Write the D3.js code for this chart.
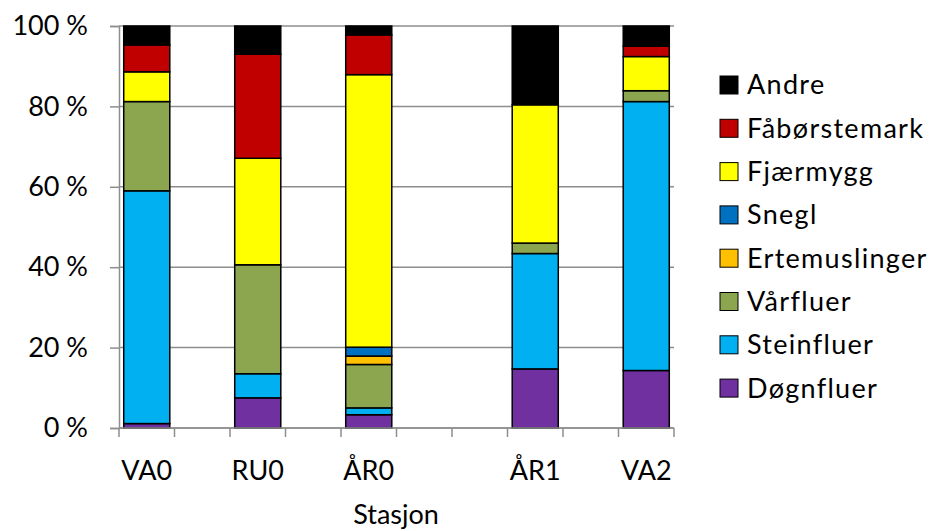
<!DOCTYPE html>
<html>
<head>
<meta charset="utf-8">
<script src="https://cdn.jsdelivr.net/npm/d3@7"></script>
<style>
  html, body { margin: 0; padding: 0; background: #fff; }
  svg { display: block; font-family: Lato, "Open Sans", sans-serif; }
</style>
</head>
<body>
<svg id="chart" width="930" height="531"></svg>
<script>
// Category slots along the x axis (empty strings are unused slots)
const categories = ["VA0", "", "RU0", "", "ÅR0", "", "", "ÅR1", "", "VA2"];

// Taxon groups, bottom of the stack first
const groups = ["Døgnfluer", "Steinfluer", "Vårfluer", "Ertemuslinger", "Snegl", "Fjærmygg", "Fåbørstemark", "Andre"];
const colors = ["#7030A0", "#00B0F0", "#8CA64F", "#FFC000", "#0070C0", "#FFFF00", "#C00000", "#000000"];

// Percent share per slot (null = empty slot)
const døgnfluer     = [1.1, null, 7.5, null, 3.3, null, null, 14.7, null, 14.3];
const steinfluer    = [57.9, null, 6.0, null, 1.7, null, null, 28.7, null, 66.9];
const vårfluer      = [22.2, null, 27.1, null, 10.8, null, null, 2.6, null, 2.7];
const ertemuslinger = [0, null, 0, null, 2.1, null, null, 0, null, 0];
const snegl         = [0, null, 0, null, 2.2, null, null, 0, null, 0];
const fjærmygg      = [7.4, null, 26.5, null, 67.8, null, null, 34.4, null, 8.5];
const fåbørstemark  = [6.7, null, 25.9, null, 9.9, null, null, 0, null, 2.6];
const andre         = [4.7, null, 7.0, null, 2.2, null, null, 19.6, null, 5.0];

const yTicks = [0, 20, 40, 60, 80, 100];
const yTickLabels = ["0 %", "20 %", "40 %", "60 %", "80 %", "100 %"];
const xTitle = "Stasjon";

const seriesValues = [døgnfluer, steinfluer, vårfluer, ertemuslinger, snegl, fjærmygg, fåbørstemark, andre];

const svg = d3.select("#chart");
const margin = { left: 119, right: 256, top: 26, bottom: 103 };
const W = 930, H = 531;

const x = d3.scaleBand()
  .domain(d3.range(categories.length))
  .range([margin.left, W - margin.right])
  .paddingInner(0.17)
  .paddingOuter(0.085);

const y = d3.scaleLinear().domain([0, 100]).range([H - margin.bottom, margin.top]);

// Table rows for the stack generator
const rows = categories.map((c, i) => {
  const r = { idx: i, name: c };
  groups.forEach((g, k) => { r[g] = seriesValues[k][i] == null ? 0 : seriesValues[k][i]; });
  return r;
}).filter(r => r.name !== "");

const stacked = d3.stack().keys(groups)(rows);

// Horizontal gridlines
svg.append("g")
  .selectAll("line")
  .data(yTicks)
  .join("line")
  .attr("x1", margin.left)
  .attr("x2", W - margin.right)
  .attr("y1", d => y(d))
  .attr("y2", d => y(d))
  .attr("stroke", "#8e8e8e")
  .attr("stroke-width", 1.5);

// Stacked bars
const layers = svg.append("g")
  .selectAll("g")
  .data(stacked)
  .join("g")
  .attr("fill", (d, i) => colors[i]);

layers.selectAll("rect")
  .data(d => d.filter(s => s[1] - s[0] > 0))
  .join("rect")
  .attr("x", d => x(d.data.idx))
  .attr("width", x.bandwidth())
  .attr("y", d => y(d[1]))
  .attr("height", d => y(d[0]) - y(d[1]))
  .attr("stroke", "#000")
  .attr("stroke-width", 1.5);

// Y axis
const yAxis = d3.axisLeft(y)
  .tickValues(yTicks)
  .tickFormat((d, i) => yTickLabels[i])
  .tickSize(9)
  .tickPadding(22);

const gy = svg.append("g")
  .attr("transform", `translate(${margin.left},0)`)
  .call(yAxis);
gy.select(".domain").attr("stroke", "#8e8e8e").attr("stroke-width", 1.5);
gy.selectAll(".tick line").attr("stroke", "#8e8e8e").attr("stroke-width", 1.5);
gy.selectAll(".tick text")
  .attr("font-size", 27)
  .attr("fill", "#000")
  .attr("font-family", "Lato, 'Open Sans', sans-serif");

// X axis: ticks on slot boundaries, labels centred under each bar
const boundaries = d3.range(categories.length + 1).map(i => margin.left + i * x.step());
const xg = svg.append("g");
xg.append("line")
  .attr("x1", margin.left).attr("x2", W - margin.right)
  .attr("y1", y(0)).attr("y2", y(0))
  .attr("stroke", "#8e8e8e").attr("stroke-width", 1.5);
xg.selectAll("line.tick")
  .data(boundaries)
  .join("line")
  .attr("class", "tick")
  .attr("x1", d => d).attr("x2", d => d)
  .attr("y1", y(0)).attr("y2", y(0) + 9)
  .attr("stroke", "#8e8e8e").attr("stroke-width", 1.5);
xg.selectAll("text")
  .data(categories.map((c, i) => ({ c, i })).filter(d => d.c !== ""))
  .join("text")
  .attr("x", d => x(d.i) + x.bandwidth() / 2)
  .attr("y", 480)
  .attr("text-anchor", "middle")
  .attr("font-size", 27)
  .text(d => d.c);

svg.append("text")
  .attr("x", 396)
  .attr("y", 524)
  .attr("text-anchor", "middle")
  .attr("font-size", 27)
  .text(xTitle);

// Legend, top entry is the top of the stack
const legendItems = groups.map((g, i) => ({ g, c: colors[i] })).reverse();
const legend = svg.append("g");
const lg = legend.selectAll("g")
  .data(legendItems)
  .join("g")
  .attr("transform", (d, i) => `translate(720, ${85 + i * 43.3})`);
lg.append("rect")
  .attr("x", 0).attr("y", -9)
  .attr("width", 18).attr("height", 18)
  .attr("fill", d => d.c)
  .attr("stroke", "#000").attr("stroke-width", 1);
lg.append("text")
  .attr("x", 27).attr("y", 0)
  .attr("dy", "0.35em")
  .attr("font-size", 27)
  .attr("letter-spacing", 1.3)
  .text(d => d.g);
</script>
</body>
</html>
